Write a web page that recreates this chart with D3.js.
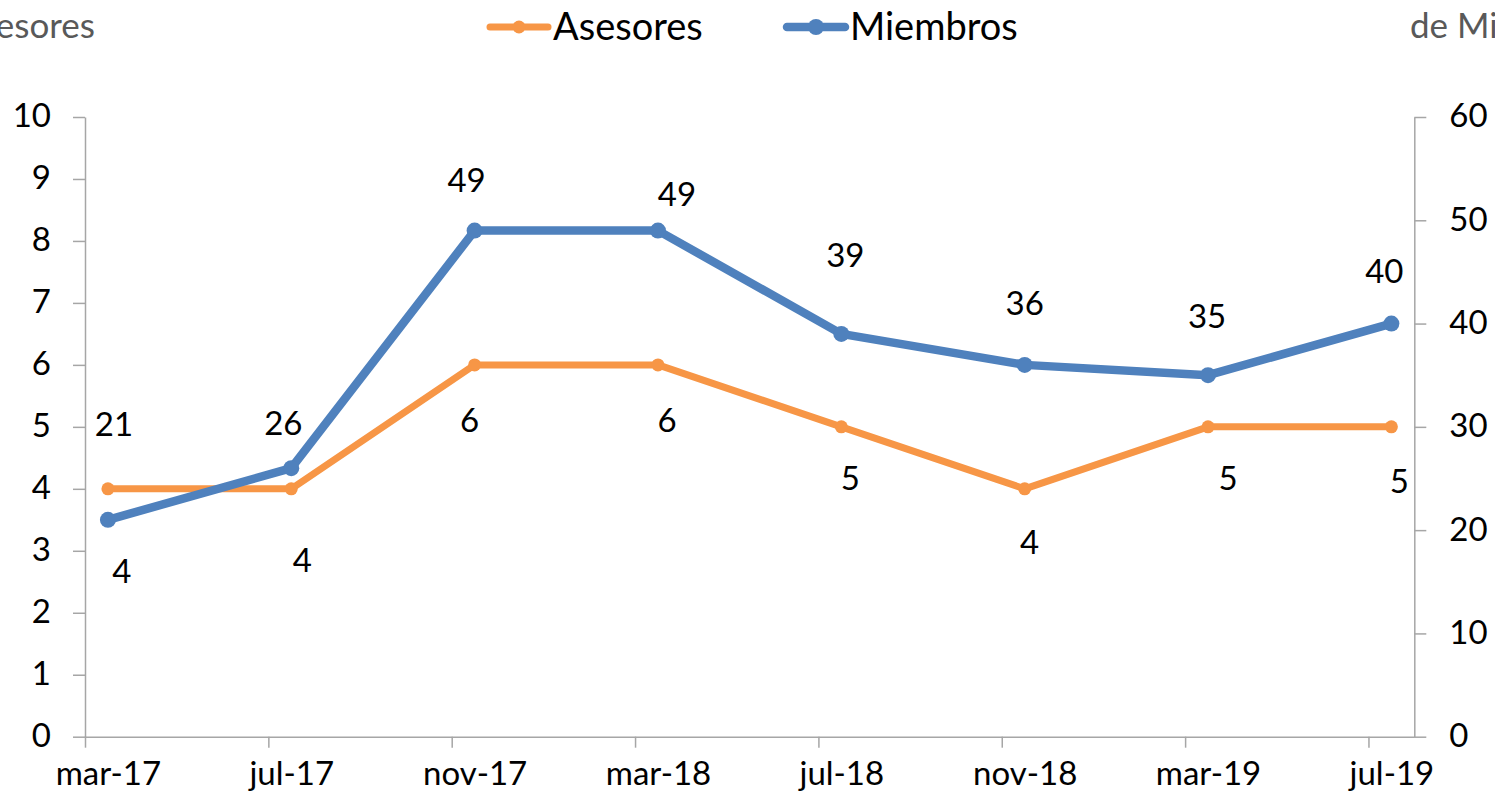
<!DOCTYPE html>
<html>
<head>
<meta charset="utf-8">
<script src="https://cdn.jsdelivr.net/npm/d3@7"></script>
<style>
  body { margin: 0; background: #fff; }
  text { font-family: Lato, "DejaVu Sans", sans-serif; }
</style>
</head>
<body>
<svg id="chart" width="1495" height="804"></svg>
<script>
// data
const months = ["2017-03", "2017-07", "2017-11", "2018-03", "2018-07", "2018-11", "2019-03", "2019-07"];
const asesores = [4, 4, 6, 6, 5, 4, 5, 5];
const miembros = [21, 26, 49, 49, 39, 36, 35, 40];
const xTickLabels = ["mar-17", "jul-17", "nov-17", "mar-18", "jul-18", "nov-18", "mar-19", "jul-19"];
const leftTicks = [0, 1, 2, 3, 4, 5, 6, 7, 8, 9, 10];
const rightTicks = [0, 10, 20, 30, 40, 50, 60];
const seriesNames = ["Asesores", "Miembros"];

// label nudges (px) - labels were hand placed in the original
const miembrosNudge = [[6, -96], [-8, -45], [-8, -50], [19, -36], [4, -79], [0, -62], [-1, -59], [-7, -52]];
const asesoresNudge = [[14, 82], [11, 71], [-5, 55], [9, 55], [9, 51], [5, 53], [20, 51], [8, 54]];

const orange = "#F79646", blue = "#4F81BD", axisGrey = "#a6a6a6";

const svg = d3.select("#chart");
const plotLeft = 85, plotRight = 1414.3, plotTop = 117, plotBottom = 736.7;

const parseMonth = d3.timeParse("%Y-%m");
const start = parseMonth("2017-03");
const end = parseMonth("2019-08");
const monthIdx = m => d3.timeMonth.count(start, parseMonth(m));

// Excel-style month slots: each month is one slot, points sit mid-slot
const x = d3.scaleLinear()
    .domain([0, d3.timeMonth.count(start, end)])
    .range([plotLeft, plotRight]);
const yL = d3.scaleLinear().domain([0, 10]).range([plotBottom, plotTop]);
const yR = d3.scaleLinear().domain([0, 60]).range([plotBottom, plotTop]);

// left axis
const gL = svg.append("g")
    .attr("transform", `translate(${plotLeft},0)`)
    .call(d3.axisLeft(yL).tickValues(leftTicks).tickSize(12).tickSizeOuter(0).tickPadding(22));

// right axis
const gR = svg.append("g")
    .attr("transform", `translate(${plotRight},0)`)
    .call(d3.axisRight(yR).tickValues(rightTicks).tickSize(12).tickSizeOuter(0).tickPadding(23));

// x axis ticks at month starts
const gX = svg.append("g")
    .attr("transform", `translate(0,${plotBottom})`)
    .call(d3.axisBottom(x).tickValues(months.map(monthIdx)).tickSize(11).tickSizeOuter(0).tickFormat(""));

// x labels centered in the month slot
const gXL = svg.append("g")
    .attr("transform", `translate(0,${plotBottom})`)
    .call(d3.axisBottom(x).tickValues(months.map(m => monthIdx(m) + 0.5)).tickSize(0).tickPadding(40)
      .tickFormat((d, i) => xTickLabels[i]));
gXL.select(".domain").remove();

[gL, gR, gX].forEach(g => {
  g.selectAll("path, line").attr("stroke", axisGrey).attr("stroke-width", 1.5);
});
[gL, gR, gXL].forEach(g => {
  g.selectAll("text").attr("fill", "#000").style("font-size", "33px");
});
gL.selectAll("text").attr("dy", "0.3em");
gR.selectAll("text").attr("dy", "0.3em");
gXL.selectAll("text").attr("dy", "0.25em");

// axis titles, partly outside the frame as in the original
svg.append("text")
    .attr("x", 95).attr("y", 38)
    .attr("text-anchor", "end")
    .attr("fill", "#595959")
    .style("font-size", "35px")
    .text("Asesores");

svg.append("text")
    .attr("x", 1410).attr("y", 38)
    .attr("fill", "#595959")
    .style("font-size", "35px")
    .text("de Miembros");

// lines
const ptsA = months.map((m, i) => ({ m: m, v: asesores[i] }));
const ptsM = months.map((m, i) => ({ m: m, v: miembros[i] }));

const lineA = d3.line().x(d => x(monthIdx(d.m) + 0.5)).y(d => yL(d.v));
const lineM = d3.line().x(d => x(monthIdx(d.m) + 0.5)).y(d => yR(d.v));

svg.append("path")
    .datum(ptsA)
    .attr("d", lineA)
    .attr("fill", "none")
    .attr("stroke", orange)
    .attr("stroke-width", 7)
    .attr("stroke-linejoin", "round");

svg.selectAll(".dotA")
    .data(ptsA)
    .enter()
    .append("circle")
      .attr("class", "dotA")
      .attr("cx", d => x(monthIdx(d.m) + 0.5))
      .attr("cy", d => yL(d.v))
      .attr("r", 6.5)
      .attr("fill", orange);

svg.append("path")
    .datum(ptsM)
    .attr("d", lineM)
    .attr("fill", "none")
    .attr("stroke", blue)
    .attr("stroke-width", 8.5)
    .attr("stroke-linejoin", "round");

svg.selectAll(".dotM")
    .data(ptsM)
    .enter()
    .append("circle")
      .attr("class", "dotM")
      .attr("cx", d => x(monthIdx(d.m) + 0.5))
      .attr("cy", d => yR(d.v))
      .attr("r", 8)
      .attr("fill", blue);

// data labels
svg.selectAll(".labM")
    .data(ptsM)
    .enter()
    .append("text")
      .attr("class", "labM")
      .attr("x", (d, i) => x(monthIdx(d.m) + 0.5) + miembrosNudge[i][0])
      .attr("y", (d, i) => yR(d.v) + miembrosNudge[i][1])
      .attr("dy", "0.36em")
      .attr("text-anchor", "middle")
      .style("font-size", "33px")
      .text(d => d.v);

svg.selectAll(".labA")
    .data(ptsA)
    .enter()
    .append("text")
      .attr("class", "labA")
      .attr("x", (d, i) => x(monthIdx(d.m) + 0.5) + asesoresNudge[i][0])
      .attr("y", (d, i) => yL(d.v) + asesoresNudge[i][1])
      .attr("dy", "0.36em")
      .attr("text-anchor", "middle")
      .style("font-size", "33px")
      .text(d => d.v);

// legend
const legendX = [490, 787];
const legendColors = [orange, blue];
const legendWidths = [7, 8.5];
const leg = svg.selectAll(".leg")
    .data(seriesNames)
    .enter()
    .append("g")
      .attr("class", "leg")
      .attr("transform", (d, i) => `translate(${legendX[i]},27)`);

leg.append("line")
    .attr("x1", 0).attr("x2", 58)
    .attr("stroke", (d, i) => legendColors[i])
    .attr("stroke-width", (d, i) => legendWidths[i])
    .attr("stroke-linecap", "round");
leg.append("circle")
    .attr("cx", 29).attr("r", (d, i) => i ? 8 : 6.5)
    .attr("fill", (d, i) => legendColors[i]);
leg.append("text")
    .attr("x", 63).attr("y", 13)
    .style("font-size", "38px")
    .text(d => d);
</script>
</body>
</html>
